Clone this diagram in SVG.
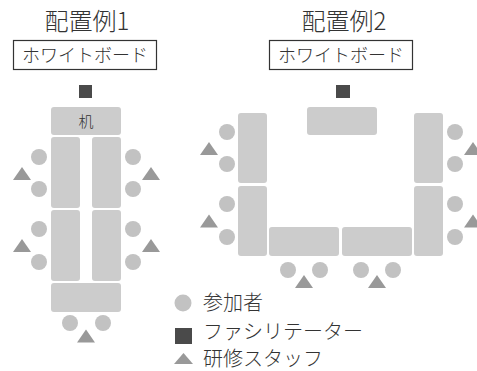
<svg xmlns="http://www.w3.org/2000/svg" width="477" height="371" viewBox="0 0 477 371">
<style>
text{font-family:"Noto Sans CJK JP","Noto Sans",sans-serif;fill:#333;font-weight:300}
.title{font-size:24px;text-anchor:middle}
.wb{font-size:18px;text-anchor:middle}
.lg{font-size:20px}
.tb{fill:#cccccc}
.p{fill:#c2c2c2}
.s{fill:#999999}
.f{fill:#4a4a4a}
.box{fill:#fff;stroke:#333;stroke-width:1.2}
</style>
<defs>
<circle id="c" r="8" class="p"/>
<polygon id="t" points="0,-6.5 9,6.5 -9,6.5" class="s"/>
</defs>
<rect width="477" height="371" fill="#fff"/>

<g id="layout1">
<text class="title" x="87" y="30">配置例1</text>
<g id="wb1"><rect class="box" x="13.5" y="40.5" width="143" height="29"/><text class="wb" x="85" y="62">ホワイトボード</text></g>
<rect id="fac1" class="f" x="79" y="85" width="13" height="13"/>
<g id="desk1"><rect class="tb" x="51" y="107" width="70" height="28" rx="3"/><text x="86" y="127" style="font-size:15px;text-anchor:middle">机</text></g>
<g id="tables1">
<rect class="tb" x="51" y="137" width="29" height="71" rx="3"/>
<rect class="tb" x="92" y="137" width="29" height="71" rx="3"/>
<rect class="tb" x="51" y="210" width="29" height="71" rx="3"/>
<rect class="tb" x="92" y="210" width="29" height="71" rx="3"/>
<rect class="tb" x="51" y="283" width="70" height="29" rx="3"/>
</g>
<g id="people1">
<use href="#c" x="39" y="157"/><use href="#c" x="39" y="189"/>
<use href="#c" x="39" y="229"/><use href="#c" x="39" y="262"/>
<use href="#c" x="133" y="157"/><use href="#c" x="133" y="189"/>
<use href="#c" x="133" y="229"/><use href="#c" x="133" y="262"/>
<use href="#c" x="70" y="323"/><use href="#c" x="103" y="323"/>
</g>
<g id="staff1">
<use href="#t" x="22" y="173.5"/><use href="#t" x="22" y="245.5"/>
<use href="#t" x="151" y="173.5"/><use href="#t" x="151" y="245.5"/>
<use href="#t" x="86" y="336"/>
</g>
</g>

<g id="layout2">
<text class="title" x="344" y="30">配置例2</text>
<g id="wb2"><rect class="box" x="269.5" y="40.5" width="143" height="29"/><text class="wb" x="341" y="62">ホワイトボード</text></g>
<rect id="fac2" class="f" x="336" y="85" width="14" height="13"/>
<g id="tables2">
<rect class="tb" x="307" y="107" width="70" height="28" rx="3"/>
<rect class="tb" x="238" y="113" width="29" height="70" rx="3"/>
<rect class="tb" x="238" y="186" width="29" height="70" rx="3"/>
<rect class="tb" x="414" y="113" width="29" height="70" rx="3"/>
<rect class="tb" x="414" y="186" width="29" height="70" rx="3"/>
<rect class="tb" x="269" y="227" width="70" height="29" rx="3"/>
<rect class="tb" x="342" y="227" width="70" height="29" rx="3"/>
</g>
<g id="people2">
<use href="#c" x="227" y="132"/><use href="#c" x="227" y="164"/>
<use href="#c" x="227" y="204"/><use href="#c" x="227" y="237"/>
<use href="#c" x="455" y="132"/><use href="#c" x="455" y="164"/>
<use href="#c" x="455" y="204"/><use href="#c" x="455" y="237"/>
<use href="#c" x="288" y="270"/><use href="#c" x="320" y="270"/>
<use href="#c" x="361" y="270"/><use href="#c" x="393" y="270"/>
</g>
<g id="staff2">
<use href="#t" x="209" y="148.5"/><use href="#t" x="209" y="221"/>
<use href="#t" x="473" y="148.5"/><use href="#t" x="473" y="221"/>
<use href="#t" x="304" y="281.5"/><use href="#t" x="377" y="281.5"/>
</g>
</g>

<g id="legend">
<circle cx="183" cy="303" r="8.5" class="p"/>
<text class="lg" x="203" y="310">参加者</text>
<rect class="f" x="175" y="328" width="17" height="16"/>
<text class="lg" x="203" y="339">ファシリテーター</text>
<polygon class="s" points="183.5,353 193,364 174,364"/>
<text class="lg" x="203" y="366">研修スタッフ</text>
</g>
</svg>
